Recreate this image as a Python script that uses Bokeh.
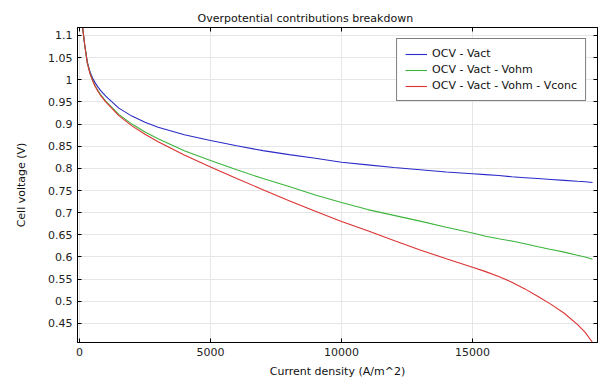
from bokeh.plotting import figure
from bokeh.models import (Range1d, LinearAxis, SingleIntervalTicker, Legend, LegendItem,
                          CustomJSTickFormatter)
from bokeh.embed import file_html
from bokeh.resources import INLINE

current = [20, 100, 200, 300, 400, 500, 600, 700, 800, 1000, 1500, 2000, 2500, 3000, 4000, 5000,
           6000, 7000, 8000, 9000, 10000, 11000, 12000, 13000, 14000, 15000, 15500, 16000, 16500,
           17000, 17500, 18000, 18500, 19000, 19300, 19580]
v_act = [1.25, 1.128, 1.078, 1.040, 1.018, 1.004, 0.993, 0.984, 0.976, 0.963, 0.936, 0.918, 0.904,
         0.893, 0.876, 0.863, 0.851, 0.840, 0.831, 0.823, 0.814, 0.808, 0.802, 0.797, 0.792, 0.788,
         0.786, 0.784, 0.781, 0.779, 0.777, 0.775, 0.773, 0.771, 0.770, 0.768]
v_ohm = [1.25, 1.128, 1.078, 1.038, 1.015, 0.999, 0.986, 0.976, 0.967, 0.952, 0.922, 0.900, 0.882,
         0.867, 0.840, 0.818, 0.797, 0.777, 0.759, 0.740, 0.723, 0.707, 0.694, 0.681, 0.667, 0.654,
         0.647, 0.641, 0.636, 0.630, 0.623, 0.617, 0.611, 0.604, 0.600, 0.595]
v_conc = [1.25, 1.128, 1.078, 1.037, 1.014, 0.998, 0.985, 0.974, 0.965, 0.950, 0.919, 0.896, 0.877,
          0.860, 0.830, 0.803, 0.777, 0.752, 0.727, 0.703, 0.680, 0.659, 0.637, 0.616, 0.596, 0.577,
          0.567, 0.556, 0.543, 0.528, 0.511, 0.493, 0.473, 0.448, 0.430, 0.407]
labels = ["OCV - Vact", "OCV - Vact - Vohm", "OCV - Vact - Vohm - Vconc"]
colors = ["#2a2ac8", "#3cb43c", "#dc3232"]

FONT = "DejaVu Sans"

p = figure(output_backend="svg", toolbar_location=None,
           frame_width=520, frame_height=315,
           min_border_left=77, min_border_top=27, min_border_right=4, min_border_bottom=35,
           x_range=Range1d(-76, 19770), y_range=Range1d(0.407, 1.118),
           title="Overpotential contributions breakdown")
p.title.text_font = FONT
p.title.text_font_size = "11px"
p.title.text_font_style = "normal"
p.title.text_color = "#111111"
p.title.align = "left"
p.title.offset = 120
p.title.standoff = 6

p.outline_line_color = "black"
p.outline_line_alpha = 1.0
p.background_fill_color = "white"
p.border_fill_color = "white"

renderers = []
for ys, c in zip([v_act, v_ohm, v_conc], colors):
    r = p.line(current, ys, line_color=c, line_width=1.1)
    renderers.append(r)

p.xaxis.ticker = SingleIntervalTicker(interval=5000, num_minor_ticks=0)
p.yaxis.ticker = SingleIntervalTicker(interval=0.05, num_minor_ticks=0)
p.xaxis.axis_label = "Current density (A/m^2)"
p.yaxis.axis_label = "Cell voltage (V)"

for ax in [p.xaxis[0], p.yaxis[0]]:
    ax.axis_line_color = "black"
    ax.major_tick_line_color = "black"
    ax.major_tick_in = 4
    ax.major_tick_out = 0
    ax.minor_tick_line_color = None
    ax.major_label_text_font = FONT
    ax.major_label_text_font_size = "11px"
    ax.major_label_text_color = "#222222"
    ax.axis_label_text_font = FONT
    ax.axis_label_text_font_size = "11px"
    ax.axis_label_text_font_style = "normal"
    ax.axis_label_text_color = "#111111"
    ax.major_label_standoff = 5
    ax.axis_label_standoff = 6
p.yaxis[0].axis_label_standoff = 17

for loc, interval in [("right", 0.05), ("above", 5000)]:
    ax = LinearAxis(ticker=SingleIntervalTicker(interval=interval, num_minor_ticks=0),
                    formatter=CustomJSTickFormatter(code="return ''"))
    ax.axis_line_color = "black"
    ax.major_tick_line_color = "black"
    ax.major_tick_in = 4
    ax.major_tick_out = 0
    ax.minor_tick_line_color = None
    ax.major_label_standoff = 0
    p.add_layout(ax, loc)

p.xgrid.grid_line_color = "#e6e6e6"
p.ygrid.grid_line_color = "#e6e6e6"

legend = Legend(items=[LegendItem(label=l, renderers=[r]) for l, r in zip(labels, renderers)],
                location="top_right")
legend.label_text_font = FONT
legend.label_text_font_size = "11px"
legend.label_text_color = "#111111"
legend.glyph_width = 22
legend.glyph_height = 12
legend.label_height = 12
legend.spacing = 3
legend.padding = 8
legend.margin = 11
legend.border_line_color = "black"
legend.border_line_width = 1
legend.background_fill_alpha = 1.0
p.add_layout(legend)

open("out.html", "w").write(file_html(p, INLINE))
